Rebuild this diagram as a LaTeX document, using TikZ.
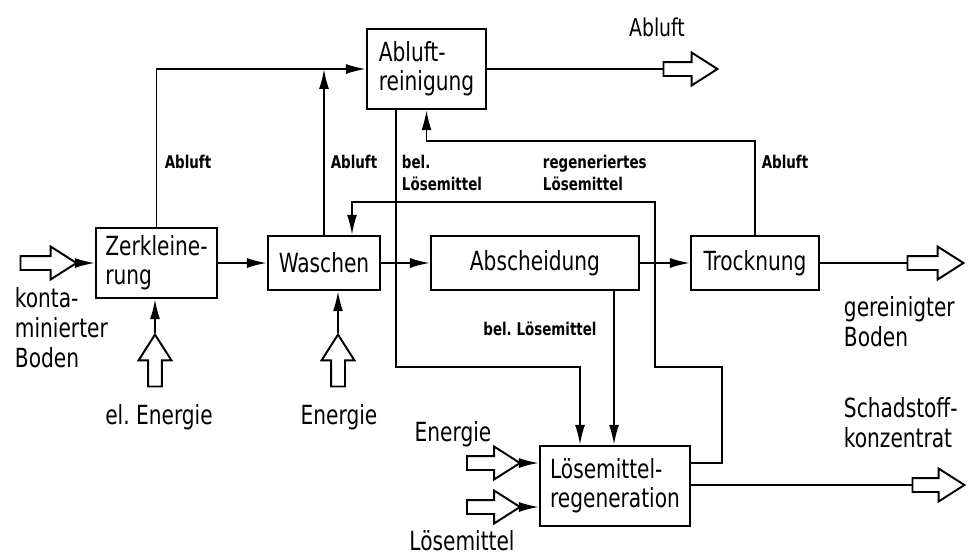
\documentclass[tikz,border=0pt]{standalone}
\usepackage{fontspec}
\setmainfont{DejaVu Sans Condensed}[FakeStretch=0.85]
\usetikzlibrary{arrows.meta,shapes.arrows}
\frenchspacing

\begin{document}
\begin{tikzpicture}[x=0.02cm, y=-0.02cm, line width=1.1pt,
        >={Latex[length=4mm,width=2mm]},
        box/.style={draw, line width=1.2pt, align=left, inner sep=0pt, font=\fontsize{15}{16.5}\selectfont},
        hollow/.style={draw, single arrow, minimum height=#1, minimum width=6.2mm, single arrow head extend=1.9mm, single arrow tip angle=65, inner xsep=0pt, inner ysep=1.2mm},
        hollow/.default=11mm,
        hollowup/.style={hollow=#1, shape border rotate=90, inner xsep=1.2mm, inner ysep=0pt},
        big/.style={align=left, inner sep=0pt, font=\fontsize{15}{17}\selectfont},
        small/.style={align=left, inner sep=0pt, font=\fontsize{10}{12.5}\selectfont\bfseries}]
        \useasboundingbox (0, 0) rectangle (975, 558);
        \node (zerk) at (156.5, 263) [box, minimum width=2.42cm, minimum height=1.4cm] {Zerkleine-\\rung};
        \node (wasch) at (324, 263) [box, minimum width=2.24cm, minimum height=1.08cm] {Waschen};
        \node (abl) at (426.5, 69) [box, minimum width=2.38cm, minimum height=1.6cm] {Abluft-\\reinigung};
        \node (absch) at (535, 263) [box, minimum width=4.16cm, minimum height=1.08cm] {Abscheidung};
        \node (trock) at (755, 263) [box, minimum width=2.56cm, minimum height=1.08cm] {Trocknung};
        \node (regen) at (615, 486) [box, minimum width=3cm, minimum height=1.6cm] {Lösemittel-\\regeneration};
        \node (inB) at (43, 263) [hollow=11.2mm] {};
        \node (outB) at (930, 263) [hollow=11.2mm] {};
        \node (outA) at (685, 69) [hollow=10.8mm] {};
        \node (outS) at (933, 485) [hollow=10.4mm] {};
        \node (en1) at (155, 366) [hollowup=10.4mm] {};
        \node (en2) at (338, 366) [hollowup=10.4mm] {};
        \node (en3) at (488, 463) [hollow=10.6mm] {};
        \node (inL) at (488, 507) [hollow=10.6mm] {};
        \coordinate (c1) at (396, 367);
        \coordinate (c2) at (580, 367);
        \coordinate (c3) at (614, 300);
        \coordinate (c4) at (426.5, 141);
        \coordinate (r1) at (722, 367);
        \coordinate (r2) at (655, 367);
        \coordinate (r3) at (655, 202);
        \coordinate (r4) at (352, 202);
        \draw[->] (inB.tip) -- (zerk.west |- inB);
        \draw[->] (zerk.east) -- (wasch.west);
        \draw[->] (wasch.east) -- (absch.west);
        \draw[->] (absch.east) -- (trock.west);
        \draw (trock.east) -- (outB.tail);
        \draw[->] (zerk.north) |- (abl.west);
        \draw[->] (wasch.north) -- (wasch.north |- abl.west);
        \draw (abl.east) -- (outA.tail);
        \draw[->] (abl.south -| c1) |- (c2) -- (c2 |- regen.north);
        \draw[->] (absch.south -| c3) -- (regen.north -| c3);
        \draw[->] (trock.north) |- (c4) -- (abl.south);
        \draw[->] (regen.east |- en3) -| (r1) -- (r2) -- (r3) -- (r4) -- (r4 |- wasch.north);
        \draw[->] (en1.tip) -- (en1.tip |- zerk.south);
        \draw[->] (en2.tip) -- (en2.tip |- wasch.south);
        \draw[->] (en3.tip) -- (en3.tip -| regen.west);
        \draw[->] (inL.tip) -- (inL.tip -| regen.west);
        \draw (regen.east |- outS) -- (outS.tail);
        \node (kb) at (14, 287) [big, anchor=north west] {konta-\\minierter\\Boden};
        \node (gb) at (843, 296) [big, anchor=north west] {gereinigter\\Boden};
        \node (sk) at (843, 397) [big, anchor=north west] {Schadstoff-\\konzentrat};
        \node (el) at (159, 417) [big] {el. Energie};
        \node (e2) at (339, 417) [big] {Energie};
        \node (e3) at (453, 434) [big] {Energie};
        \node (lm) at (462, 541) [big] {Lösemittel};
        \node (ab0) at (657, 27) [inner sep=0pt, font=\fontsize{14}{16}\selectfont] {Abluft};
        \node (ab1) at (188, 162) [small] {Abluft};
        \node (ab2) at (354, 162) [small] {Abluft};
        \node (ab3) at (785, 162) [small] {Abluft};
        \node (bl1) at (401, 154) [small, anchor=north west] {bel.\\Lösemittel};
        \node (rl) at (542, 154) [small, anchor=north west] {regeneriertes\\Lösemittel};
        \node (bl2) at (540, 329) [small] {bel. Lösemittel};
    \end{tikzpicture}
\end{document}
